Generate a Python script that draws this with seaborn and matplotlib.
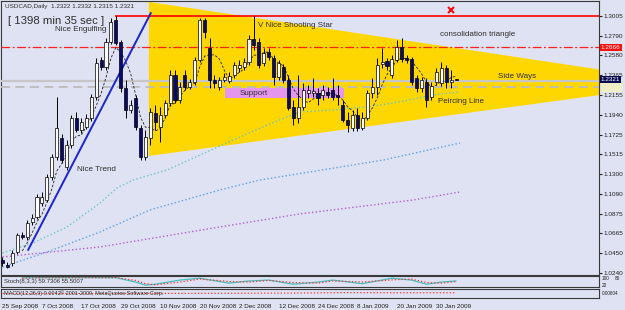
import numpy as np
import pandas as pd
import matplotlib
matplotlib.use("Agg")
import matplotlib.pyplot as plt
import matplotlib.transforms as mtransforms
from matplotlib.patches import Polygon, Rectangle
import seaborn as sns

sns.set_style("white")
plt.rcParams['font.family'] = ['Liberation Sans', 'DejaVu Sans']

# ---------------- data ----------------
opens = [1.0380, 1.0326, 1.0347, 1.0466, 1.0649, 1.0627, 1.0789, 1.0842, 1.0993, 1.1025,
         1.1273, 1.1488, 1.1692, 1.1380, 1.1617, 1.1907, 1.1778, 1.1811, 1.1907, 1.2133,
         1.2532, 1.2456, 1.2725, 1.2962, 1.2725, 1.2230, 1.1993, 1.2123, 1.1800, 1.1488,
         1.1692, 1.1961, 1.1811, 1.1940, 1.2069, 1.2370, 1.2101, 1.2370, 1.2241, 1.2295,
         1.2532, 1.2962, 1.2661, 1.2316, 1.2241, 1.2316, 1.2306, 1.2370, 1.2446, 1.2456,
         1.2510, 1.2758, 1.2725, 1.2499, 1.2618, 1.2553, 1.2349, 1.2456, 1.2316, 1.2026,
         1.1907, 1.2026, 1.2177, 1.2177, 1.2177, 1.2155, 1.2187, 1.2208, 1.2155, 1.2047,
         1.1886, 1.1800, 1.1940, 1.1800, 1.1907, 1.2177, 1.2241, 1.2489, 1.2521, 1.2370,
         1.2532, 1.2671, 1.2553, 1.2542, 1.2338, 1.2230, 1.2295, 1.2133, 1.2295, 1.2284,
         1.2446, 1.2295, 1.2322]
highs = [1.0412, 1.0358, 1.0487, 1.0670, 1.0681, 1.0810, 1.0875, 1.1090, 1.1111, 1.1305,
         1.1520, 1.2133, 1.1735, 1.1671, 1.1940, 1.1972, 1.1907, 1.1950, 1.2166, 1.2553,
         1.2564, 1.2768, 1.2983, 1.3005, 1.2747, 1.2316, 1.2101, 1.2155, 1.1832, 1.1778,
         1.2015, 1.2047, 1.2026, 1.2101, 1.2424, 1.2424, 1.2295, 1.2424, 1.2327, 1.2564,
         1.2983, 1.2983, 1.2768, 1.2370, 1.2349, 1.2392, 1.2403, 1.2510, 1.2532, 1.2553,
         1.2801, 1.3005, 1.2768, 1.2661, 1.2661, 1.2585, 1.2532, 1.2489, 1.2370, 1.2101,
         1.2370, 1.2284, 1.2263, 1.2338, 1.2230, 1.2263, 1.2241, 1.2338, 1.2263, 1.2101,
         1.1972, 1.1993, 1.2015, 1.1972, 1.2208, 1.2338, 1.2553, 1.2661, 1.2553, 1.2585,
         1.2747, 1.2768, 1.2585, 1.2564, 1.2370, 1.2349, 1.2338, 1.2295, 1.2446, 1.2510,
         1.2478, 1.2424, 1.2332]
lows = [1.0315, 1.0293, 1.0315, 1.0444, 1.0605, 1.0595, 1.0756, 1.0821, 1.0961, 1.1004,
        1.1240, 1.1456, 1.1423, 1.1348, 1.1585, 1.1757, 1.1746, 1.1789, 1.1875, 1.2101,
        1.2424, 1.2424, 1.2704, 1.2693, 1.2187, 1.1907, 1.1961, 1.1778, 1.1456, 1.1456,
        1.1617, 1.1778, 1.1649, 1.1907, 1.2037, 1.2069, 1.2069, 1.2209, 1.2220, 1.2263,
        1.2510, 1.2768, 1.2230, 1.2230, 1.2209, 1.2295, 1.2284, 1.2338, 1.2403, 1.2424,
        1.2478, 1.2639, 1.2446, 1.2467, 1.2532, 1.2263, 1.2316, 1.2284, 1.1993, 1.1832,
        1.1854, 1.1993, 1.2123, 1.2133, 1.2047, 1.2101, 1.2123, 1.2101, 1.2047, 1.1864,
        1.1757, 1.1768, 1.1768, 1.1778, 1.1886, 1.2123, 1.2155, 1.2446, 1.2424, 1.2338,
        1.2510, 1.2510, 1.2499, 1.2263, 1.2187, 1.2187, 1.2026, 1.2101, 1.2263, 1.2252,
        1.2230, 1.2230, 1.2315]
closes = [1.0347, 1.0304, 1.0455, 1.0649, 1.0627, 1.0778, 1.0832, 1.1057, 1.1057, 1.1273,
          1.1488, 1.1800, 1.1456, 1.1617, 1.1907, 1.1778, 1.1864, 1.1907, 1.2133, 1.2499,
          1.2456, 1.2725, 1.2940, 1.2714, 1.2230, 1.1993, 1.2047, 1.1811, 1.1488, 1.1703,
          1.1972, 1.1864, 1.1940, 1.2069, 1.2370, 1.2101, 1.2241, 1.2241, 1.2295, 1.2532,
          1.2962, 1.2833, 1.2316, 1.2284, 1.2316, 1.2349, 1.2360, 1.2478, 1.2478, 1.2510,
          1.2758, 1.2693, 1.2478, 1.2607, 1.2564, 1.2349, 1.2499, 1.2316, 1.2015, 1.1907,
          1.2026, 1.2208, 1.2208, 1.2198, 1.2123, 1.2208, 1.2155, 1.2133, 1.2133, 1.1886,
          1.1832, 1.1940, 1.1800, 1.1907, 1.2177, 1.2241, 1.2478, 1.2510, 1.2467, 1.2542,
          1.2671, 1.2542, 1.2532, 1.2295, 1.2230, 1.2316, 1.2101, 1.2252, 1.2403, 1.2446,
          1.2295, 1.2316, 1.2321]

date_bars = [0, 8, 16, 24, 32, 40, 48, 56, 64, 72, 80, 88]
date_labels = ["25 Sep 2008", "7 Oct 2008", "17 Oct 2008", "29 Oct 2008", "10 Nov 2008",
               "20 Nov 2008", "2 Dec 2008", "12 Dec 2008", "24 Dec 2008", "8 Jan 2009",
               "20 Jan 2009", "30 Jan 2009"]
price_ticks = [1.3005, 1.2790, 1.2580, 1.2365, 1.2155, 1.1940, 1.1725, 1.1515,
               1.1300, 1.1090, 1.0875, 1.0665, 1.0450, 1.0240]

# moving averages (dotted), read at several bars
ma_teal_bars = [0, 6.2, 13.1, 19.8, 23.2, 26.5, 33.4, 40.1, 46.8, 53.7, 60.3, 67.0, 73.9, 80.6, 87.3, 92.8]
ma_teal = [1.0455, 1.0563, 1.0735, 1.0993, 1.1154, 1.1240, 1.1348, 1.1509, 1.1671, 1.1832,
           1.1972, 1.1993, 1.2026, 1.2080, 1.2155, 1.2187]
ma_blue_bars = [0, 9.6, 19.8, 29.9, 44.1, 52.2, 62.4, 77.2, 92.8]
ma_blue = [1.0304, 1.0476, 1.0681, 1.0918, 1.1133, 1.1240, 1.1327, 1.1455, 1.1638]
ma_purple_bars = [0, 19.8, 44.1, 60.3, 83.3, 92.8]
ma_purple = [1.0412, 1.0520, 1.0735, 1.0875, 1.1025, 1.1111]

# stochastic panel
stoch_bars = [4, 8, 14, 23, 27, 29, 31, 36, 40, 46, 50, 54, 59, 64, 67, 73, 79, 83, 86, 89, 92]
stoch_main = [83, 85, 85, 85, 45, 17, 25, 63, 80, 35, 55, 63, 25, 45, 63, 30, 80, 63, 25, 45, 55]
stoch_signal = [80, 84, 85, 85, 60, 30, 20, 45, 72, 50, 45, 60, 40, 35, 55, 45, 65, 72, 40, 35, 50]
# third panel line
osc_bars = [0, 20, 40, 60, 70, 80, 92]
osc_vals = [0.50, 0.50, 0.52, 0.55, 0.60, 0.58, 0.58]

# drawn objects
tri_left_bar, tri_top, tri_bottom = 29.7, 1.3156, 1.1499
tri_apex_bar, tri_apex = 139.3, 1.2284
trend_x, trend_y = [5.2, 30.1], [1.0487, 1.3037]
resist_level, resist_start = 1.3005, 22.8
dashdot_level = 1.2666
bid_level = 1.2310
side_level = 1.2241
support_start, support_end, support_low, support_high = 45.1, 69.3, 1.2123, 1.2230
cross_bar, cross_price = 91, 1.3070

BG = "#dfe2f2"
TXT = "#2e2e2e"

fig = plt.figure(figsize=(6.25, 3.10), dpi=100, facecolor=BG)
ax = fig.add_axes([0.0016, 0.1129, 0.9568, 0.8839], facecolor=BG)
ax2 = fig.add_axes([0.0016, 0.0742, 0.9568, 0.0355], facecolor=BG)
ax3 = fig.add_axes([0.0016, 0.0387, 0.9568, 0.0290], facecolor=BG)

XL = (-0.3, 121.0)
for a in (ax, ax2, ax3):
    a.set_xlim(*XL)
    for s in a.spines.values():
        s.set_color("#3a3a3a")
        s.set_linewidth(0.8)
ax.set_ylim(1.0218, 1.3166)

# triangle
ax.add_patch(Polygon([(tri_left_bar, tri_top), (tri_left_bar, tri_bottom), (tri_apex_bar, tri_apex)],
                     closed=True, facecolor="#ffd700", edgecolor="none", zorder=1))
# support zone
ax.add_patch(Rectangle((support_start, support_low), support_end - support_start,
                       support_high - support_low, facecolor="#e496ef", edgecolor="none", zorder=2))

# horizontal lines
ax.axhline(dashdot_level, color="#ff2020", lw=0.9, linestyle=(0, (7, 2, 1.5, 2)), zorder=3)
ax.hlines(resist_level, resist_start, XL[1], color="#ff0000", lw=1.2, zorder=3)
ax.axhline(bid_level, color="#c6c6c6", lw=1.6, zorder=3)
ax.axhline(side_level, color="#bcbcbc", lw=1.3, linestyle=(0, (5, 3)), zorder=3)

# moving averages
sns.lineplot(x=ma_teal_bars, y=ma_teal, ax=ax, color="#6cc4c8", lw=1.0, linestyle=":", legend=False, zorder=3)
sns.lineplot(x=ma_blue_bars, y=ma_blue, ax=ax, color="#5a9fe4", lw=1.0, linestyle=":", legend=False, zorder=3)
sns.lineplot(x=ma_purple_bars, y=ma_purple, ax=ax, color="#b45ed0", lw=1.0, linestyle=":", legend=False, zorder=3)
n = len(closes)
bars = np.arange(n)
ma_fast = pd.Series(closes).rolling(5).mean()
sns.lineplot(x=bars, y=ma_fast.values, ax=ax, color="#202020", lw=0.6, linestyle=(0, (3, 2)), legend=False, zorder=4)

# trend line
ax.plot(trend_x, trend_y, color="#1c22d8", lw=1.4, zorder=4)

# candles
o = np.array(opens); c = np.array(closes); h = np.array(highs); l = np.array(lows)
up = c >= o
ax.vlines(bars, l, h, colors="black", lw=0.7, zorder=5)
body_bottom = np.minimum(o, c)
body_h = np.maximum(np.abs(c - o), 0.0004)
ax.bar(bars, body_h, bottom=body_bottom, width=0.62,
       color=np.where(up, "white", "#0a0a6e"), edgecolor="black", linewidth=0.5, zorder=6)

# red cross
ax.plot([cross_bar], [cross_price], marker="x", color="#ff0000", ms=4, mew=1.4, zorder=7, ls="none")

# annotations
fs = 5.8
ax.text(10.6, 1.2854, "Nice Engulfing", fontsize=fs, color=TXT, va="center", zorder=8)
ax.text(51.8, 1.2897, "V Nice Shooting Star", fontsize=fs, color=TXT, va="center", zorder=8)
ax.text(88.7, 1.2801, "consolidation triangle", fontsize=fs, color=TXT, va="center", zorder=8)
ax.text(100.5, 1.2349, "Side Ways", fontsize=fs, color=TXT, va="center", zorder=8)
ax.text(88.3, 1.2090, "Peircing Line", fontsize=fs, color=TXT, va="center", zorder=8)
ax.text(15.1, 1.1348, "Nice Trend", fontsize=fs, color=TXT, va="center", zorder=8)
ax.text(48.2, 1.2166, "Support", fontsize=fs, color=TXT, va="center", zorder=8)

ax.text(0.006, 0.988, "USDCAD,Daily  %.4f %.4f %.4f %.4f" % (opens[-1], highs[-1], lows[-1], closes[-1]),
        transform=ax.transAxes, fontsize=4.6, color=TXT, va="top", ha="left")
ax.text(0.012, 0.945, "[ 1398 min 35 sec ]", transform=ax.transAxes, fontsize=8.2,
        color=TXT, va="top", ha="left")

# right price axis
ax.yaxis.tick_right()
ax.set_yticks(price_ticks)
ax.set_yticklabels(["%.4f" % t for t in price_ticks])
ax.tick_params(axis="y", labelsize=4.6, length=2, pad=1.5, colors="#202020")
ax.tick_params(axis="x", bottom=False, labelbottom=False)
bt = mtransforms.blended_transform_factory(ax.transAxes, ax.transData)
ax.text(1.003, dashdot_level, "1.2666", transform=bt, fontsize=4.6, color="white", va="center", ha="left",
        bbox=dict(boxstyle="square,pad=0.15", fc="#ff1010", ec="none"), zorder=9, clip_on=False)
ax.text(1.003, closes[-1], "%.4f" % closes[-1], transform=bt, fontsize=4.6, color="white", va="center",
        ha="left", bbox=dict(boxstyle="square,pad=0.15", fc="#0a0a50", ec="none"), zorder=9, clip_on=False)
ax.add_patch(Rectangle((1.003, 1.2187), 0.036, 0.0095, transform=bt, facecolor="#efeec4",
                       edgecolor="none", clip_on=False, zorder=8))

# stochastic panel
ax2.set_ylim(0, 100)
sns.lineplot(x=stoch_bars, y=stoch_main, ax=ax2, color="#40c0c0", lw=0.9, legend=False)
sns.lineplot(x=stoch_bars, y=stoch_signal, ax=ax2, color="#ff3030", lw=0.9, linestyle=":", legend=False)
ax2.text(0.005, 0.5, "Stoch(8,3,3) 59.7306 55.5007", transform=ax2.transAxes, fontsize=4.3,
         color=TXT, va="center", ha="left")
ax2.set_yticks([])
ax2.tick_params(axis="x", bottom=False, labelbottom=False)
ax2.text(1.004, 0.78, "100", transform=ax2.transAxes, fontsize=3.4, color="#202020", va="center")
ax2.text(1.027, 0.78, "80", transform=ax2.transAxes, fontsize=3.4, color="#202020", va="center")
ax2.text(1.004, 0.18, "20", transform=ax2.transAxes, fontsize=3.4, color="#202020", va="center")

# third panel
ax3.set_ylim(0, 1)
sns.lineplot(x=osc_bars, y=osc_vals, ax=ax3, color="#ff3030", lw=0.9, linestyle=":", legend=False)
ax3.text(0.005, 0.5, "MACD(12,26,9) 0.0042", transform=ax3.transAxes, fontsize=4.0,
         color=TXT, va="center", ha="left")
ax3.text(0.098, 0.5, "\u00a9 2001-2009, MetaQuotes Software Corp.", transform=ax3.transAxes,
         fontsize=4.0, color=TXT, va="center", ha="left")
ax3.set_yticks([])
ax3.text(1.004, 0.5, "0.00604", transform=ax3.transAxes, fontsize=3.4, color="#202020", va="center")
ax3.set_xticks(date_bars)
ax3.set_xticklabels(date_labels, ha="left")
ax3.tick_params(axis="x", labelsize=4.6, length=3, pad=1, direction="out", colors="#202020")

for a in (ax, ax2, ax3):
    a.set_xlabel("")
    a.set_ylabel("")

fig.savefig("out.png", dpi=100, facecolor=BG)
